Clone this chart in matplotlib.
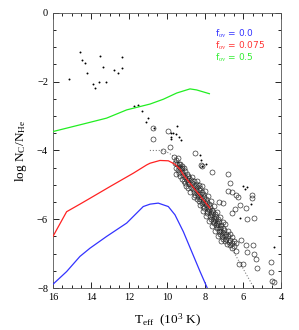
import matplotlib
matplotlib.use("Agg")
import matplotlib.pyplot as plt
from matplotlib.ticker import MultipleLocator

plt.rcParams['font.family'] = ['Liberation Serif', 'DejaVu Serif']
plt.rcParams['mathtext.fontset'] = 'custom'
plt.rcParams['mathtext.rm'] = 'Liberation Serif'
plt.rcParams['mathtext.it'] = 'Liberation Serif:italic'

# model curves (Teff in 10^3 K, log NC/NHe)
blue_t = [16.0, 15.28, 14.58, 14.05, 13.18, 12.12, 11.25, 10.89, 10.46, 9.93, 9.58, 9.14, 8.70, 8.26, 7.88]
blue_y = [-7.89, -7.52, -7.08, -6.84, -6.50, -6.11, -5.63, -5.56, -5.53, -5.63, -5.87, -6.36, -6.94, -7.52, -8.0]

red_t = [16.0, 15.28, 14.58, 14.05, 13.0, 11.77, 11.07, 10.89, 10.37, 9.93, 9.58, 9.32, 9.14, 7.75]
red_y = [-6.50, -5.78, -5.56, -5.39, -5.05, -4.66, -4.42, -4.37, -4.29, -4.30, -4.40, -4.54, -4.71, -5.67]

green_t = [16.0, 14.4, 13.18, 12.12, 10.89, 10.19, 9.49, 8.79, 8.44, 7.77]
green_y = [-3.45, -3.23, -3.06, -2.82, -2.65, -2.51, -2.33, -2.21, -2.24, -2.35]

dotted_t = [10.9, 10.3, 9.9, 9.6, 9.3, 6.5, 5.37]
dotted_y = [-4.0, -4.0, -4.07, -4.2, -4.45, -6.94, -8.05]

# small filled dots
dot_t = [14.58, 13.53, 12.37, 14.46, 14.30, 13.38, 12.37, 12.81, 12.58, 14.21, 15.17, 13.58, 13.23, 13.88, 13.77,
         11.72, 11.51, 11.32, 11.02, 11.11, 10.67, 9.49, 9.79, 9.67, 9.53, 9.81, 9.81, 9.35, 9.26,
         8.26, 8.23, 7.96, 8.17, 6.02, 5.89, 5.80, 5.60, 6.16, 4.37]
dot_y = [-1.14, -1.24, -1.28, -1.37, -1.47, -1.58, -1.60, -1.65, -1.74, -1.76, -1.91, -2.00, -2.01, -2.07, -2.18,
         -2.70, -2.69, -2.84, -3.07, -3.17, -3.36, -3.28, -3.48, -3.48, -3.53, -3.61, -3.67, -3.60, -3.70,
         -4.13, -4.27, -4.39, -4.45, -5.02, -5.12, -5.06, -5.56, -5.97, -6.82]

# open circles
circles = [
    (10.72, -3.35), (10.75, -3.67), (9.93, -3.43), (9.84, -3.89), (10.23, -4.01), (9.40, -4.22),
    (8.53, -4.06), (8.21, -4.42), (9.38, -4.39), (9.53, -4.69), (9.23, -4.50), (8.17, -4.44),
    (7.65, -4.63), (6.81, -4.69), (6.68, -4.95), (6.77, -5.17), (6.60, -5.21), (6.28, -5.34),
    (6.35, -5.30), (7.26, -5.50), (7.04, -5.53), (6.16, -5.58), (6.42, -5.71), (5.84, -5.68),
    (5.54, -5.29), (5.54, -5.39), (6.60, -5.82), (5.81, -6.00), (5.42, -5.95), (6.12, -6.60),
    (5.84, -6.74), (5.49, -6.74), (5.81, -6.94), (5.42, -7.01), (5.32, -7.15), (5.28, -7.42),
    (6.20, -7.31), (6.02, -7.31), (4.54, -7.23), (4.54, -7.52), (4.49, -7.79), (4.37, -7.81),
    (9.62, -4.18), (9.60, -4.36), (9.55, -4.28), (9.52, -4.50), (9.45, -4.40), (9.44, -4.58),
    (9.38, -4.48), (9.36, -4.66), (9.30, -4.38), (9.28, -4.55), (9.31, -4.73), (9.22, -4.45),
    (9.20, -4.62), (9.23, -4.82), (9.12, -4.52), (9.14, -4.70), (9.10, -4.88), (9.05, -4.60),
    (9.03, -4.78), (9.06, -4.95), (8.97, -4.67), (8.95, -4.85), (8.99, -5.03), (8.90, -4.73),
    (8.88, -4.92), (8.91, -5.10), (8.82, -4.80), (8.84, -4.98), (8.75, -4.87), (8.73, -5.05),
    (8.77, -5.22), (8.66, -4.78), (8.68, -4.95), (8.64, -5.13), (8.58, -4.88), (8.60, -5.04),
    (8.56, -5.20), (8.59, -5.35), (8.50, -4.98), (8.48, -5.15), (8.52, -5.30), (8.42, -4.90),
    (8.44, -5.06), (8.40, -5.23), (8.43, -5.40), (8.34, -5.00), (8.32, -5.15), (8.36, -5.32),
    (8.33, -5.48), (8.26, -5.10), (8.24, -5.26), (8.28, -5.42), (8.25, -5.58), (8.18, -5.03),
    (8.16, -5.20), (8.19, -5.36), (8.17, -5.52), (8.10, -5.27), (8.12, -5.44), (8.08, -5.60),
    (8.11, -5.75), (8.02, -5.18), (8.04, -5.35), (8.00, -5.52), (8.03, -5.68), (7.94, -5.42),
    (7.96, -5.58), (7.92, -5.75), (7.95, -5.90), (7.86, -5.33), (7.88, -5.50), (7.84, -5.66),
    (7.87, -5.82), (7.78, -5.57), (7.80, -5.74), (7.76, -5.90), (7.79, -6.05), (7.70, -5.48),
    (7.72, -5.65), (7.68, -5.82), (7.71, -5.98), (7.62, -5.72), (7.64, -5.88), (7.60, -6.05),
    (7.63, -6.20), (7.54, -5.62), (7.56, -5.78), (7.52, -5.95), (7.55, -6.12), (7.46, -5.86),
    (7.48, -6.02), (7.44, -6.18), (7.47, -6.33), (7.38, -5.78), (7.40, -5.94), (7.36, -6.10),
    (7.39, -6.26), (7.30, -6.00), (7.32, -6.17), (7.28, -6.34), (7.31, -6.50), (7.22, -5.92),
    (7.24, -6.08), (7.20, -6.25), (7.23, -6.42), (7.14, -6.16), (7.16, -6.33), (7.12, -6.50),
    (7.15, -6.64), (7.05, -6.08), (7.07, -6.24), (7.03, -6.40), (7.06, -6.56), (6.96, -6.15),
    (6.98, -6.32), (6.94, -6.48), (6.97, -6.64), (6.87, -6.42), (6.89, -6.58), (6.85, -6.72),
    (6.78, -6.35), (6.80, -6.50), (6.76, -6.66), (6.68, -6.44), (6.70, -6.60), (6.66, -6.76),
    (6.58, -6.52), (6.60, -6.68), (6.56, -6.84), (6.47, -6.62), (6.49, -6.78), (6.38, -6.70),
    (6.36, -6.92),
]
circ_t = [p[0] for p in circles]
circ_y = [p[1] for p in circles]

labels = ['f$_{\\rm ov}$ = 0.0', 'f$_{\\rm ov}$ = 0.075', 'f$_{\\rm ov}$ = 0.5']
label_colors = ['#3333ff', '#ff3333', '#33ee33']

fig = plt.figure(figsize=(2.99, 3.30), dpi=100)
ax = fig.add_axes([0.177, 0.127, 0.763, 0.834])

ax.plot(circ_t, circ_y, 'o', mfc='none', mec='#222222', ms=3.6, mew=0.45, zorder=2)
ax.plot(dot_t, dot_y, 'o', color='k', ms=1.4, mew=0, zorder=3)
ax.plot(dotted_t, dotted_y, ':', color='gray', lw=0.8, zorder=1)
ax.plot(blue_t, blue_y, color='#3333ff', lw=0.9, zorder=4)
ax.plot(red_t, red_y, color='#ff2222', lw=0.9, zorder=4)
ax.plot(green_t, green_y, color='#22ee22', lw=0.9, zorder=4)

for i in range(3):
    ax.text(0.71, 0.925 - i * 0.045, labels[i], color=label_colors[i], transform=ax.transAxes,
            fontsize=6.5, family=['DejaVu Sans'], va='center')

ax.set_xlim(16, 4)
ax.set_ylim(-8, 0)
ax.xaxis.set_major_locator(MultipleLocator(2))
ax.xaxis.set_minor_locator(MultipleLocator(0.5))
ax.yaxis.set_major_locator(MultipleLocator(2))
ax.yaxis.set_minor_locator(MultipleLocator(0.5))
ax.tick_params(which='both', direction='in', top=True, right=True, labelsize=7.5, width=0.6)
ax.tick_params(which='major', length=4)
ax.tick_params(which='minor', length=2)
for s in ax.spines.values():
    s.set_linewidth(0.6)
    s.set_color('#555555')

ax.set_xlabel('T$_{\\rm eff}$  (10$^3$ K)', fontsize=9.5, labelpad=7)
ax.set_ylabel('log N$_{\\rm C}$/N$_{\\rm He}$', fontsize=9.5, labelpad=6)

fig.savefig('out.png', dpi=100)
